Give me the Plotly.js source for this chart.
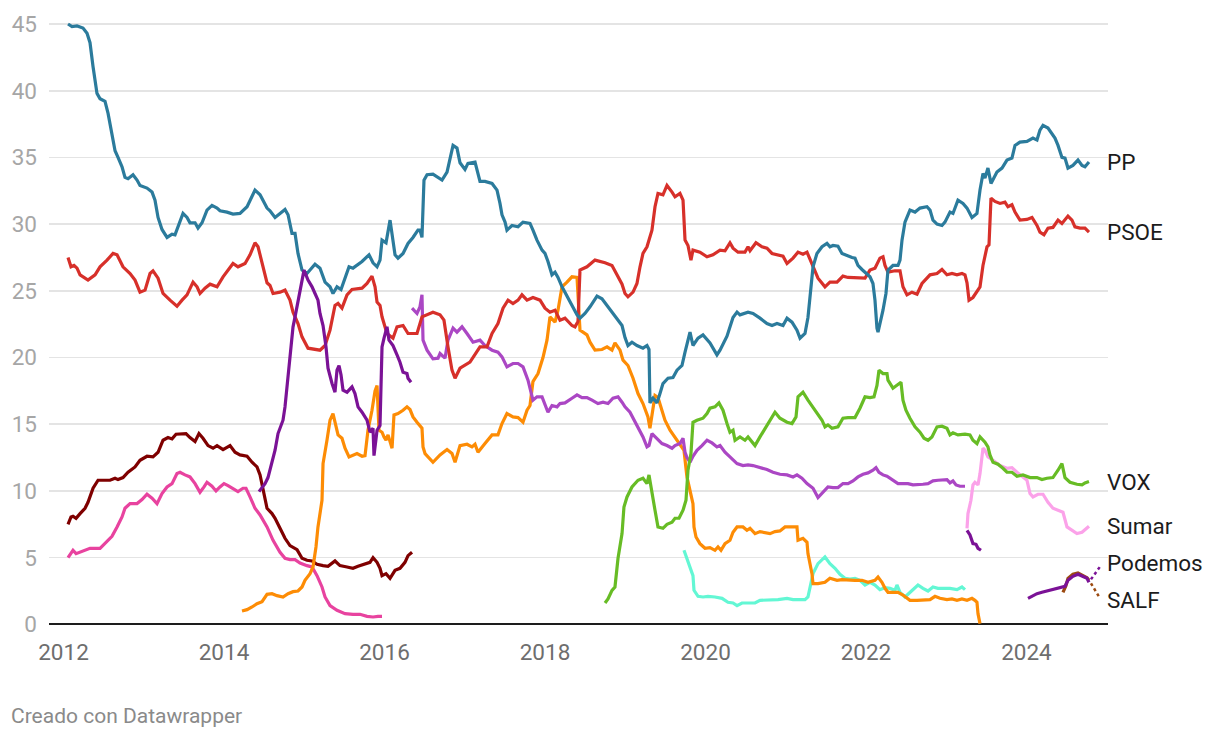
<!DOCTYPE html>
<html><head><meta charset="utf-8">
<script src="https://cdn.plot.ly/plotly-3.0.1.min.js"></script>
<style>html,body{margin:0;padding:0;background:#fff}#chart{width:1220px;height:740px}</style>
</head><body><div id="chart"></div>
<script>
// ---------- DATA (decimal year, % vote estimate) ----------
const ppYear=[2012.056,2012.106,2012.168,2012.243,2012.293,2012.330,2012.368,2012.417,2012.455,2012.517,2012.555,2012.604,2012.642,2012.679,2012.729,2012.766,2012.804,2012.866,2012.916,2012.953,2013.040,2013.103,2013.140,2013.178,2013.227,2013.290,2013.352,2013.389,2013.427,2013.489,2013.539,2013.576,2013.639,2013.676,2013.726,2013.788,2013.850,2013.913,2013.950,2014.037,2014.112,2014.199,2014.287,2014.386,2014.449,2014.536,2014.573,2014.636,2014.698,2014.760,2014.798,2014.847,2014.885,2014.922,2014.972,2015.034,2015.134,2015.196,2015.259,2015.321,2015.358,2015.408,2015.458,2015.508,2015.558,2015.607,2015.720,2015.807,2015.857,2015.907,2015.944,2015.969,2016.019,2016.069,2016.094,2016.131,2016.168,2016.231,2016.293,2016.355,2016.417,2016.442,2016.467,2016.492,2016.530,2016.604,2016.717,2016.779,2016.854,2016.903,2016.941,2017.003,2017.040,2017.128,2017.190,2017.252,2017.340,2017.402,2017.439,2017.464,2017.502,2017.526,2017.589,2017.664,2017.726,2017.813,2017.850,2017.900,2017.963,2018.000,2018.037,2018.087,2018.125,2018.162,2018.212,2018.312,2018.399,2018.436,2018.498,2018.561,2018.648,2018.710,2018.773,2018.835,2018.910,2018.960,2018.997,2019.034,2019.084,2019.146,2019.221,2019.271,2019.296,2019.308,2019.346,2019.396,2019.433,2019.470,2019.533,2019.595,2019.645,2019.707,2019.745,2019.807,2019.844,2019.907,2019.969,2020.056,2020.143,2020.181,2020.268,2020.343,2020.393,2020.430,2020.530,2020.592,2020.679,2020.766,2020.829,2020.891,2020.966,2021.016,2021.078,2021.140,2021.178,2021.240,2021.277,2021.302,2021.340,2021.389,2021.452,2021.514,2021.551,2021.589,2021.651,2021.701,2021.738,2021.826,2021.863,2021.900,2021.950,2021.988,2022.050,2022.087,2022.112,2022.137,2022.150,2022.212,2022.249,2022.274,2022.336,2022.399,2022.424,2022.449,2022.486,2022.548,2022.611,2022.673,2022.760,2022.798,2022.835,2022.885,2022.947,2022.984,2023.047,2023.084,2023.146,2023.209,2023.259,2023.321,2023.383,2023.421,2023.458,2023.483,2023.520,2023.558,2023.607,2023.632,2023.695,2023.757,2023.819,2023.857,2023.919,2024.006,2024.081,2024.131,2024.168,2024.206,2024.268,2024.355,2024.393,2024.442,2024.480,2024.517,2024.579,2024.642,2024.692,2024.729,2024.779];
const ppValue=[45.0,44.8,44.85,44.7,44.3,43.6,41.8,39.8,39.4,39.2,38.3,36.8,35.5,35.0,34.3,33.5,33.4,33.7,33.3,32.9,32.7,32.4,31.8,30.5,29.6,29.0,29.25,29.2,29.8,30.8,30.5,30.1,30.1,29.7,30.1,31.05,31.4,31.2,31.0,30.9,30.75,30.8,31.3,32.55,32.2,31.2,31.0,30.5,30.8,31.1,30.7,29.3,29.3,27.8,26.55,26.3,27.0,26.7,25.65,25.3,24.8,25.3,25.1,26.0,26.8,26.7,27.2,27.7,27.1,26.8,27.3,28.8,28.6,30.3,29.3,27.7,27.45,27.8,28.55,29.0,29.55,29.55,29.0,33.3,33.7,33.75,33.3,33.9,35.9,35.7,34.6,34.1,34.55,34.65,33.2,33.2,33.05,32.55,31.55,30.7,30.15,29.55,29.9,29.8,30.15,30.05,29.55,28.8,28.05,27.8,27.2,26.2,26.4,26.0,25.3,24.2,23.2,22.95,23.3,23.8,24.6,24.4,23.9,23.4,22.8,22.4,21.5,20.9,21.15,20.9,20.7,20.9,20.6,16.6,16.95,16.6,17.3,18.05,18.45,18.5,19.05,19.4,20.4,21.9,20.9,21.45,21.7,21.1,20.2,20.55,21.6,23.0,23.4,23.2,23.4,23.3,22.95,22.55,22.4,22.55,22.4,22.95,22.65,22.05,21.45,21.8,23.0,24.6,26.8,27.8,28.3,28.55,28.3,28.4,28.35,27.8,27.7,27.5,27.45,26.9,26.6,26.4,26.05,25.55,24.3,22.2,21.9,23.55,24.8,26.55,26.9,26.9,27.3,28.8,30.15,31.05,30.9,31.2,31.3,31.05,30.3,30.0,29.9,30.15,30.9,30.8,31.8,31.55,31.2,30.5,30.8,32.55,33.8,33.45,34.2,33.05,33.7,33.9,34.2,34.8,34.95,35.9,36.15,36.2,36.45,36.3,37.05,37.4,37.2,36.45,35.9,35.0,34.95,34.2,34.4,34.8,34.4,34.3,34.65];

const psoeYear=[2012.056,2012.093,2012.131,2012.168,2012.206,2012.305,2012.393,2012.455,2012.542,2012.617,2012.667,2012.741,2012.829,2012.891,2012.953,2013.016,2013.078,2013.115,2013.178,2013.240,2013.327,2013.414,2013.477,2013.539,2013.614,2013.664,2013.701,2013.763,2013.826,2013.913,2013.988,2014.050,2014.112,2014.174,2014.262,2014.324,2014.386,2014.424,2014.474,2014.536,2014.573,2014.611,2014.698,2014.760,2014.822,2014.860,2014.922,2014.972,2015.047,2015.196,2015.259,2015.321,2015.383,2015.421,2015.470,2015.533,2015.595,2015.720,2015.782,2015.844,2015.882,2015.907,2015.944,2015.969,2016.031,2016.106,2016.156,2016.231,2016.293,2016.405,2016.467,2016.530,2016.604,2016.692,2016.741,2016.791,2016.841,2016.879,2016.941,2017.065,2017.190,2017.277,2017.340,2017.414,2017.477,2017.539,2017.601,2017.664,2017.713,2017.776,2017.850,2017.938,2018.000,2018.062,2018.125,2018.187,2018.249,2018.336,2018.374,2018.411,2018.436,2018.523,2018.623,2018.748,2018.835,2018.897,2018.960,2018.997,2019.034,2019.097,2019.146,2019.184,2019.221,2019.271,2019.308,2019.333,2019.371,2019.408,2019.470,2019.520,2019.583,2019.620,2019.682,2019.720,2019.745,2019.782,2019.819,2019.844,2019.931,2020.019,2020.093,2020.181,2020.243,2020.305,2020.343,2020.405,2020.492,2020.530,2020.555,2020.629,2020.704,2020.766,2020.829,2020.891,2020.966,2021.016,2021.091,2021.153,2021.215,2021.265,2021.327,2021.402,2021.489,2021.551,2021.639,2021.713,2021.776,2021.888,2021.988,2022.050,2022.112,2022.174,2022.212,2022.237,2022.274,2022.361,2022.424,2022.461,2022.511,2022.573,2022.636,2022.698,2022.760,2022.798,2022.885,2022.947,2023.009,2023.072,2023.134,2023.196,2023.234,2023.259,2023.284,2023.333,2023.421,2023.458,2023.508,2023.533,2023.558,2023.607,2023.670,2023.732,2023.769,2023.819,2023.857,2023.919,2024.006,2024.069,2024.131,2024.168,2024.218,2024.268,2024.330,2024.393,2024.442,2024.517,2024.567,2024.604,2024.667,2024.729,2024.779];
const psoeValue=[27.5,26.8,26.9,26.7,26.2,25.8,26.2,26.8,27.3,27.8,27.7,26.8,26.3,25.8,24.9,25.05,26.3,26.5,25.95,24.8,24.3,23.85,24.3,24.7,25.65,25.3,24.8,25.2,25.5,25.3,26.05,26.55,27.05,26.8,27.05,27.7,28.6,28.3,27.05,25.6,25.4,24.8,24.9,25.05,24.3,23.4,22.55,21.55,20.7,20.55,20.9,22.05,23.9,24.05,23.7,24.7,25.1,25.2,25.55,26.1,25.3,24.15,23.9,23.05,21.8,21.45,22.3,22.4,21.8,21.8,23.05,23.2,23.4,23.2,22.8,20.8,19.05,18.45,19.2,19.65,20.8,20.8,21.8,22.55,23.7,24.3,24.05,24.3,24.7,24.3,24.5,24.3,23.7,23.4,23.55,22.8,22.95,22.4,22.3,22.7,26.55,26.8,27.3,27.1,26.9,26.2,25.5,24.8,24.55,24.9,25.55,26.8,27.8,28.3,28.95,29.55,31.3,32.3,32.2,32.9,32.4,32.05,32.3,31.8,28.8,28.4,27.3,28.05,27.9,27.55,27.7,28.05,28.0,28.6,28.2,27.9,27.9,28.3,28.0,28.6,28.3,28.2,27.8,27.7,27.6,27.05,27.45,27.9,27.75,27.9,27.05,25.95,25.3,25.65,25.65,26.1,26.0,26.0,25.95,26.55,26.7,27.45,27.55,26.9,26.4,26.5,26.5,25.3,24.7,24.9,24.75,25.55,25.95,26.2,26.3,26.6,26.2,26.3,26.2,26.3,26.2,25.6,24.3,24.5,25.3,26.9,28.3,28.45,31.95,31.7,31.55,31.65,31.3,31.45,30.9,30.3,30.35,30.5,29.9,29.4,29.2,29.7,29.75,30.3,30.05,30.6,30.3,29.8,29.7,29.7,29.4];

const voxYear=[2018.748,2018.785,2018.835,2018.872,2018.910,2018.960,2018.984,2019.022,2019.084,2019.121,2019.159,2019.221,2019.271,2019.296,2019.333,2019.371,2019.408,2019.470,2019.520,2019.583,2019.620,2019.670,2019.720,2019.757,2019.782,2019.819,2019.844,2019.894,2019.969,2020.019,2020.056,2020.118,2020.168,2020.218,2020.268,2020.305,2020.343,2020.368,2020.430,2020.492,2020.530,2020.579,2020.617,2020.679,2020.766,2020.829,2020.866,2020.928,2021.016,2021.078,2021.128,2021.153,2021.215,2021.277,2021.327,2021.389,2021.452,2021.489,2021.526,2021.576,2021.651,2021.713,2021.776,2021.863,2021.925,2021.988,2022.050,2022.100,2022.137,2022.162,2022.212,2022.262,2022.274,2022.336,2022.399,2022.436,2022.461,2022.498,2022.548,2022.611,2022.673,2022.723,2022.773,2022.822,2022.885,2022.947,2023.009,2023.047,2023.084,2023.146,2023.234,2023.296,2023.333,2023.383,2023.421,2023.483,2023.520,2023.545,2023.583,2023.645,2023.707,2023.757,2023.819,2023.882,2023.956,2024.044,2024.131,2024.193,2024.255,2024.330,2024.393,2024.442,2024.480,2024.542,2024.629,2024.692,2024.729,2024.779];
const voxValue=[1.6,1.9,2.55,2.8,4.95,6.8,8.8,9.55,10.3,10.55,10.8,10.95,10.55,11.2,10.05,8.55,7.3,7.2,7.5,7.65,7.95,7.95,8.55,9.3,11.55,12.8,15.15,15.3,15.45,15.8,16.2,16.3,16.6,16.05,15.05,14.4,14.55,13.8,14.05,13.8,14.05,13.65,13.4,14.05,14.9,15.55,15.9,15.45,15.15,15.05,15.55,17.05,17.4,16.8,16.4,15.9,15.3,14.8,14.95,14.7,14.8,15.45,15.5,15.5,16.2,17.05,17.0,17.05,17.9,19.05,18.8,18.8,18.3,17.7,17.95,18.15,16.8,16.05,15.45,14.8,14.4,13.95,13.8,14.05,14.8,14.85,14.7,14.2,14.35,14.2,14.25,14.2,13.8,13.55,14.05,13.65,13.3,12.7,12.15,12.0,11.7,11.4,11.4,11.1,11.2,11.0,11.0,10.85,10.95,11.0,11.55,12.05,11.0,10.65,10.5,10.45,10.6,10.7];

const sumarYear=[2023.259,2023.271,2023.308,2023.333,2023.358,2023.396,2023.421,2023.458,2023.483,2023.520,2023.583,2023.670,2023.757,2023.819,2023.882,2023.956,2024.006,2024.044,2024.081,2024.143,2024.206,2024.268,2024.330,2024.393,2024.455,2024.505,2024.567,2024.629,2024.692,2024.742,2024.779];
const sumarValue=[7.2,8.3,9.3,10.45,10.65,10.45,11.3,13.2,13.05,12.55,12.3,11.9,11.7,11.75,11.4,11.05,10.8,9.8,9.55,9.75,9.75,9.15,8.7,8.55,8.4,7.3,7.05,6.8,6.9,7.2,7.35];

const podemosYear=[2014.436,2014.511,2014.548,2014.598,2014.636,2014.673,2014.735,2014.760,2014.785,2014.822,2014.860,2014.885,2014.947,2014.997,2015.047,2015.097,2015.134,2015.171,2015.196,2015.234,2015.271,2015.296,2015.346,2015.383,2015.408,2015.433,2015.458,2015.483,2015.533,2015.595,2015.632,2015.670,2015.720,2015.782,2015.819,2015.857,2015.869,2015.907,2015.944,2015.969,2015.994,2016.031,2016.056,2016.106,2016.156,2016.193,2016.231,2016.280,2016.293,2016.330,null,2023.259,2023.296,2023.333,2023.371,2023.396,2023.433,null,2024.019,2024.131,2024.193,2024.255,2024.330,2024.417,2024.480,2024.517,2024.579,2024.642,2024.704,2024.754,2024.779];
const podemosValue=[9.95,10.55,11.0,12.05,13.05,14.3,15.3,16.3,17.8,19.8,22.3,23.05,25.05,26.55,25.8,25.3,24.8,24.3,23.3,22.4,20.8,19.2,18.05,17.4,19.05,19.4,18.7,17.55,17.4,17.8,17.3,16.3,15.9,15.3,14.4,14.7,12.65,14.55,14.9,20.8,21.45,22.3,21.3,20.9,20.2,19.65,18.9,18.8,18.45,18.15,null,7.05,6.7,6.05,6.0,5.7,5.55,null,1.95,2.3,2.4,2.5,2.6,2.7,2.85,3.3,3.6,3.75,3.55,3.45,3.15];

const salfYear=[2024.455,2024.492,2024.517,2024.579,2024.642,2024.704,2024.754,2024.779];
const salfValue=[2.4,2.9,3.45,3.75,3.85,3.65,3.5,3.3];

const csYear=[2014.224,2014.287,2014.349,2014.411,2014.474,2014.536,2014.598,2014.660,2014.735,2014.798,2014.860,2014.922,2014.972,2015.009,2015.072,2015.109,2015.146,2015.171,2015.221,2015.234,2015.283,2015.321,2015.358,2015.383,2015.421,2015.470,2015.508,2015.558,2015.607,2015.657,2015.720,2015.757,2015.794,2015.844,2015.882,2015.907,2015.931,2015.969,2015.994,2016.019,2016.044,2016.094,2016.118,2016.168,2016.231,2016.280,2016.318,2016.355,2016.405,2016.467,2016.480,2016.505,2016.604,2016.692,2016.779,2016.841,2016.879,2016.941,2017.028,2017.090,2017.128,2017.165,2017.252,2017.340,2017.414,2017.464,2017.526,2017.601,2017.664,2017.726,2017.776,2017.813,2017.850,2017.913,2017.975,2018.025,2018.062,2018.125,2018.162,2018.212,2018.274,2018.336,2018.399,2018.411,2018.436,2018.523,2018.561,2018.623,2018.710,2018.773,2018.835,2018.872,2018.935,2018.972,2019.034,2019.097,2019.159,2019.221,2019.283,2019.308,2019.333,2019.371,2019.408,2019.458,2019.495,2019.558,2019.620,2019.682,2019.732,2019.769,2019.794,2019.844,2019.857,2019.882,2019.931,2019.994,2020.056,2020.118,2020.156,2020.193,2020.243,2020.305,2020.343,2020.393,2020.467,2020.517,2020.555,2020.617,2020.679,2020.741,2020.804,2020.866,2020.928,2020.991,2021.078,2021.140,2021.153,2021.215,2021.265,2021.277,2021.327,2021.340,2021.402,2021.489,2021.551,2021.639,2021.701,2021.776,2021.863,2021.950,2022.025,2022.112,2022.150,2022.199,2022.237,2022.274,2022.336,2022.399,2022.461,2022.511,2022.548,2022.636,2022.710,2022.798,2022.860,2022.922,2023.009,2023.072,2023.134,2023.196,2023.259,2023.321,2023.358,2023.383,2023.396,2023.421];
const csValue=[1.0,1.1,1.3,1.55,1.7,2.25,2.3,2.15,2.05,2.3,2.45,2.5,2.8,3.3,3.8,4.3,5.8,7.3,9.3,12.05,13.8,15.3,15.8,15.15,14.2,13.95,13.2,12.55,12.7,12.8,12.6,12.65,14.55,16.05,17.5,17.9,14.55,14.4,14.05,13.8,14.2,13.2,15.7,15.8,16.05,16.3,16.1,15.55,15.15,14.7,13.3,12.8,12.15,12.7,13.1,12.8,12.15,13.4,13.5,13.3,13.5,12.9,13.55,14.2,14.2,15.05,15.8,15.55,15.5,15.15,16.05,16.4,18.2,18.8,20.0,21.3,23.05,22.65,23.55,25.3,25.65,26.05,26.0,24.55,22.05,21.7,21.15,20.55,20.6,20.8,20.55,21.1,20.55,19.8,19.4,18.45,17.3,16.55,15.55,14.7,15.8,17.15,17.0,16.05,15.3,14.55,14.05,13.55,13.05,11.05,10.3,9.05,7.3,6.55,6.05,5.7,5.75,5.55,5.8,5.55,6.05,6.3,6.9,7.3,7.3,7.05,7.2,6.8,6.95,6.9,6.8,6.95,7.0,7.3,7.3,7.3,6.3,6.45,6.15,5.3,3.8,3.05,3.05,3.15,3.45,3.3,3.35,3.3,3.3,3.3,3.15,3.3,3.55,3.15,2.7,2.4,2.4,2.4,2.2,1.95,1.8,1.8,1.85,1.85,2.1,1.95,1.85,1.9,1.8,1.9,1.8,1.95,1.8,1.65,0.8,0.05];

const masPaisYear=[2019.732,2019.769,2019.807,2019.844,2019.857,2019.907,2019.969,2020.031,2020.118,2020.206,2020.280,2020.343,2020.393,2020.455,2020.530,2020.617,2020.679,2020.766,2020.829,2020.904,2021.016,2021.091,2021.178,2021.240,2021.277,2021.302,2021.340,2021.402,2021.489,2021.551,2021.614,2021.676,2021.738,2021.801,2021.863,2021.925,2021.988,2022.050,2022.112,2022.174,2022.237,2022.299,2022.361,2022.386,2022.424,2022.486,2022.548,2022.611,2022.648,2022.710,2022.773,2022.835,2022.897,2022.960,2023.047,2023.134,2023.196,2023.234];
const masPaisValue=[5.55,4.95,4.4,3.65,2.55,2.1,2.05,2.1,2.05,1.95,1.65,1.6,1.4,1.6,1.6,1.6,1.8,1.8,1.85,1.85,1.95,1.85,1.85,1.85,2.05,2.8,3.8,4.55,5.05,4.55,4.2,3.75,3.45,3.4,3.45,3.3,2.95,3.15,2.95,2.6,2.75,2.7,2.55,2.95,2.4,2.05,2.4,2.8,2.95,2.7,2.5,2.8,2.7,2.7,2.7,2.6,2.8,2.6];

const upYear=[2016.343,2016.405,2016.442,2016.467,2016.480,2016.530,2016.604,2016.667,2016.692,2016.754,2016.791,2016.854,2016.903,2016.966,2017.028,2017.103,2017.190,2017.252,2017.340,2017.414,2017.464,2017.526,2017.601,2017.664,2017.726,2017.788,2017.850,2017.900,2017.963,2018.000,2018.037,2018.087,2018.150,2018.187,2018.249,2018.336,2018.399,2018.461,2018.523,2018.586,2018.660,2018.723,2018.785,2018.847,2018.910,2018.960,2018.997,2019.059,2019.097,2019.159,2019.221,2019.271,2019.296,2019.333,2019.396,2019.458,2019.520,2019.583,2019.620,2019.682,2019.720,2019.745,2019.769,2019.807,2019.844,2019.894,2019.956,2020.019,2020.081,2020.143,2020.181,2020.243,2020.305,2020.393,2020.467,2020.530,2020.592,2020.679,2020.766,2020.841,2020.928,2021.016,2021.091,2021.140,2021.202,2021.265,2021.340,2021.402,2021.464,2021.526,2021.589,2021.651,2021.713,2021.776,2021.838,2021.900,2021.963,2022.025,2022.087,2022.125,2022.162,2022.212,2022.262,2022.336,2022.399,2022.461,2022.523,2022.586,2022.648,2022.710,2022.773,2022.835,2022.897,2022.960,2023.009,2023.047,2023.084,2023.122,2023.171,2023.234];
const upValue=[23.7,23.3,23.8,24.7,21.3,20.55,19.9,19.95,20.3,19.95,21.3,22.2,21.9,22.3,21.8,21.15,21.3,20.9,20.55,20.4,20.05,19.3,19.55,19.55,19.3,18.3,16.8,17.05,17.05,16.4,15.9,16.4,16.3,16.55,16.6,16.95,17.2,17.0,17.0,16.8,16.55,16.65,16.55,16.95,17.05,16.65,16.3,15.9,15.45,14.7,14.05,13.3,13.4,14.3,13.95,13.55,13.4,13.2,13.4,13.55,13.95,12.9,12.5,12.15,12.6,13.05,13.4,13.8,13.6,13.3,13.4,12.9,12.55,12.05,11.9,11.95,11.9,11.75,11.6,11.4,11.25,11.2,11.05,11.2,10.95,10.55,10.2,9.5,9.9,10.3,10.25,10.25,10.55,10.55,10.75,11.05,11.25,11.35,11.55,11.75,11.4,11.2,11.1,10.8,10.55,10.55,10.55,10.45,10.45,10.5,10.55,10.75,10.8,10.8,10.85,10.6,10.75,10.45,10.35,10.35];

const iuYear=[2012.056,2012.093,2012.118,2012.156,2012.206,2012.268,2012.305,2012.368,2012.430,2012.492,2012.579,2012.642,2012.679,2012.741,2012.804,2012.891,2012.953,2013.040,2013.115,2013.178,2013.240,2013.302,2013.352,2013.402,2013.477,2013.526,2013.576,2013.639,2013.688,2013.738,2013.801,2013.863,2013.913,2013.988,2014.075,2014.137,2014.199,2014.287,2014.349,2014.411,2014.449,2014.486,2014.536,2014.598,2014.636,2014.698,2014.760,2014.822,2014.910,2014.972,2015.034,2015.097,2015.159,2015.234,2015.296,2015.383,2015.445,2015.533,2015.607,2015.670,2015.757,2015.819,2015.857,2015.907,2015.944,2015.969,2016.019,2016.069,2016.131,2016.193,2016.255,2016.293,2016.343];
const iuValue=[7.5,8.05,8.1,7.95,8.3,8.7,9.15,10.2,10.8,10.8,10.8,10.95,10.85,11.0,11.4,11.8,12.3,12.6,12.55,12.9,13.8,14.0,13.9,14.25,14.25,14.3,14.0,13.7,14.3,13.95,13.4,13.2,13.4,13.1,13.4,12.9,12.7,12.6,12.15,11.8,11.2,10.05,8.7,8.3,7.95,7.2,6.45,5.9,5.6,4.95,4.8,4.75,4.5,4.4,4.35,4.75,4.4,4.3,4.2,4.35,4.55,4.65,5.0,4.65,4.2,3.65,3.8,3.45,4.05,4.2,4.65,5.15,5.4];

const upydYear=[2012.056,2012.093,2012.118,2012.156,2012.206,2012.268,2012.330,2012.455,2012.517,2012.604,2012.667,2012.729,2012.766,2012.829,2012.916,2012.978,2013.040,2013.103,2013.165,2013.227,2013.290,2013.352,2013.414,2013.452,2013.514,2013.576,2013.639,2013.701,2013.751,2013.788,2013.850,2013.900,2013.950,2014.000,2014.050,2014.112,2014.174,2014.237,2014.274,2014.324,2014.386,2014.449,2014.536,2014.611,2014.698,2014.760,2014.822,2014.885,2014.947,2015.034,2015.097,2015.159,2015.221,2015.259,2015.321,2015.408,2015.508,2015.607,2015.694,2015.782,2015.857,2015.919,2015.969];
const upydValue=[5.0,5.4,5.55,5.3,5.4,5.55,5.7,5.7,6.05,6.6,7.3,8.05,8.7,9.05,9.05,9.35,9.75,9.45,9.05,9.8,10.3,10.55,11.3,11.4,11.2,11.05,10.55,9.9,10.3,10.65,10.35,10.0,10.3,10.55,10.4,10.2,9.95,10.2,10.2,9.55,8.7,8.2,7.3,6.3,5.4,4.95,4.85,4.85,4.6,4.4,4.3,3.65,2.8,2.05,1.4,1.05,0.8,0.75,0.75,0.6,0.55,0.6,0.6];

const xTickValues=[2012,2014,2016,2018,2020,2022,2024];
const xTickLabels=["2012","2014","2016","2018","2020","2022","2024"];
const yTickValues=[0,5,10,15,20,25,30,35,40,45];
const yTickLabels=["0","5","10","15","20","25","30","35","40","45"];

// ---------- SERIES (drawing order: bottom to top) ----------
const series=[
  {name:"IU", x:iuYear, y:iuValue, color:"#7f0000"},
  {name:"UPyD", x:upydYear, y:upydValue, color:"#e8439f"},
  {name:"Más País", x:masPaisYear, y:masPaisValue, color:"#63f7d4"},
  {name:"Cs", x:csYear, y:csValue, color:"#fd8c05"},
  {name:"Unidas Podemos", x:upYear, y:upValue, color:"#ab47c4"},
  {name:"Sumar", x:sumarYear, y:sumarValue, color:"#fba2e9", label:"Sumar", shift:0},
  {name:"VOX", x:voxYear, y:voxValue, color:"#67bc25", label:"VOX", shift:0},
  {name:"PSOE", x:psoeYear, y:psoeValue, color:"#d7302a", label:"PSOE", shift:0},
  {name:"PP", x:ppYear, y:ppValue, color:"#2b7b9c", label:"PP", shift:0},
  {name:"SALF", x:salfYear, y:salfValue, color:"#9c4a10", label:"SALF", shift:-20, connector:[2,-3,11,-18]},
  {name:"Podemos", x:podemosYear, y:podemosValue, color:"#7b1296", label:"Podemos", shift:19, connector:[2,3,12,17]}
];

const traces=series.map(s=>({
  type:"scatter", mode:"lines", name:s.name, x:s.x, y:s.y,
  line:{color:s.color, width:3.2, shape:"linear"},
  connectgaps:false, hoverinfo:"skip"
}));

const annotations=[];
const shapes=[];
series.forEach(s=>{
  if(!s.label) return;
  let i=s.y.length-1; while(i>=0 && s.y[i]==null) i--;
  const lx=s.x[i], ly=s.y[i];
  annotations.push({xref:"paper", x:1, xanchor:"left", xshift:-3, yref:"y", y:ly, yanchor:"middle",
    yshift:s.shift, text:s.label, showarrow:false,
    font:{family:"Roboto, sans-serif", size:22.5, color:"#1c1c1c"}});
  if(s.connector){
    const c=s.connector;
    shapes.push({type:"line", xref:"x", yref:"y", xsizemode:"pixel", ysizemode:"pixel",
      xanchor:lx, yanchor:ly, x0:c[0], y0:c[1], x1:c[2], y1:c[3],
      line:{color:s.color, width:2.5, dash:"dot"}});
  }
});
annotations.push({xref:"paper", yref:"paper", x:0, y:0, xanchor:"left", yanchor:"middle",
  xshift:-40, yshift:-89, text:"Creado con Datawrapper", showarrow:false,
  font:{family:"Roboto, sans-serif", size:21, color:"#8a8a8a"}});

const layout={
  width:1220, height:740,
  margin:{l:49, r:112, t:20, b:113.3, pad:0},
  paper_bgcolor:"#ffffff", plot_bgcolor:"#ffffff",
  font:{family:"Roboto, sans-serif"},
  showlegend:false,
  xaxis:{range:[2011.819,2025.016], tickmode:"array", tickvals:xTickValues, ticktext:xTickLabels,
    showgrid:false, zeroline:false, showline:false, ticks:"", ticklabelstandoff:9,
    tickfont:{family:"Roboto, sans-serif", size:22.5, color:"#6e6e6e"}, fixedrange:true},
  yaxis:{range:[-0.2,45.3], tickmode:"array", tickvals:yTickValues, ticktext:yTickLabels,
    showgrid:true, gridcolor:"#e4e4e4", gridwidth:1.6,
    zeroline:true, zerolinecolor:"#1d1d1d", zerolinewidth:2.2,
    showline:false, ticks:"", ticklabelstandoff:11,
    tickfont:{family:"Roboto, sans-serif", size:22.5, color:"#a6a6a6"}, fixedrange:true},
  annotations:annotations,
  shapes:shapes
};

Plotly.newPlot("chart", traces, layout, {displayModeBar:false, staticPlot:true});
</script>
</body></html>
